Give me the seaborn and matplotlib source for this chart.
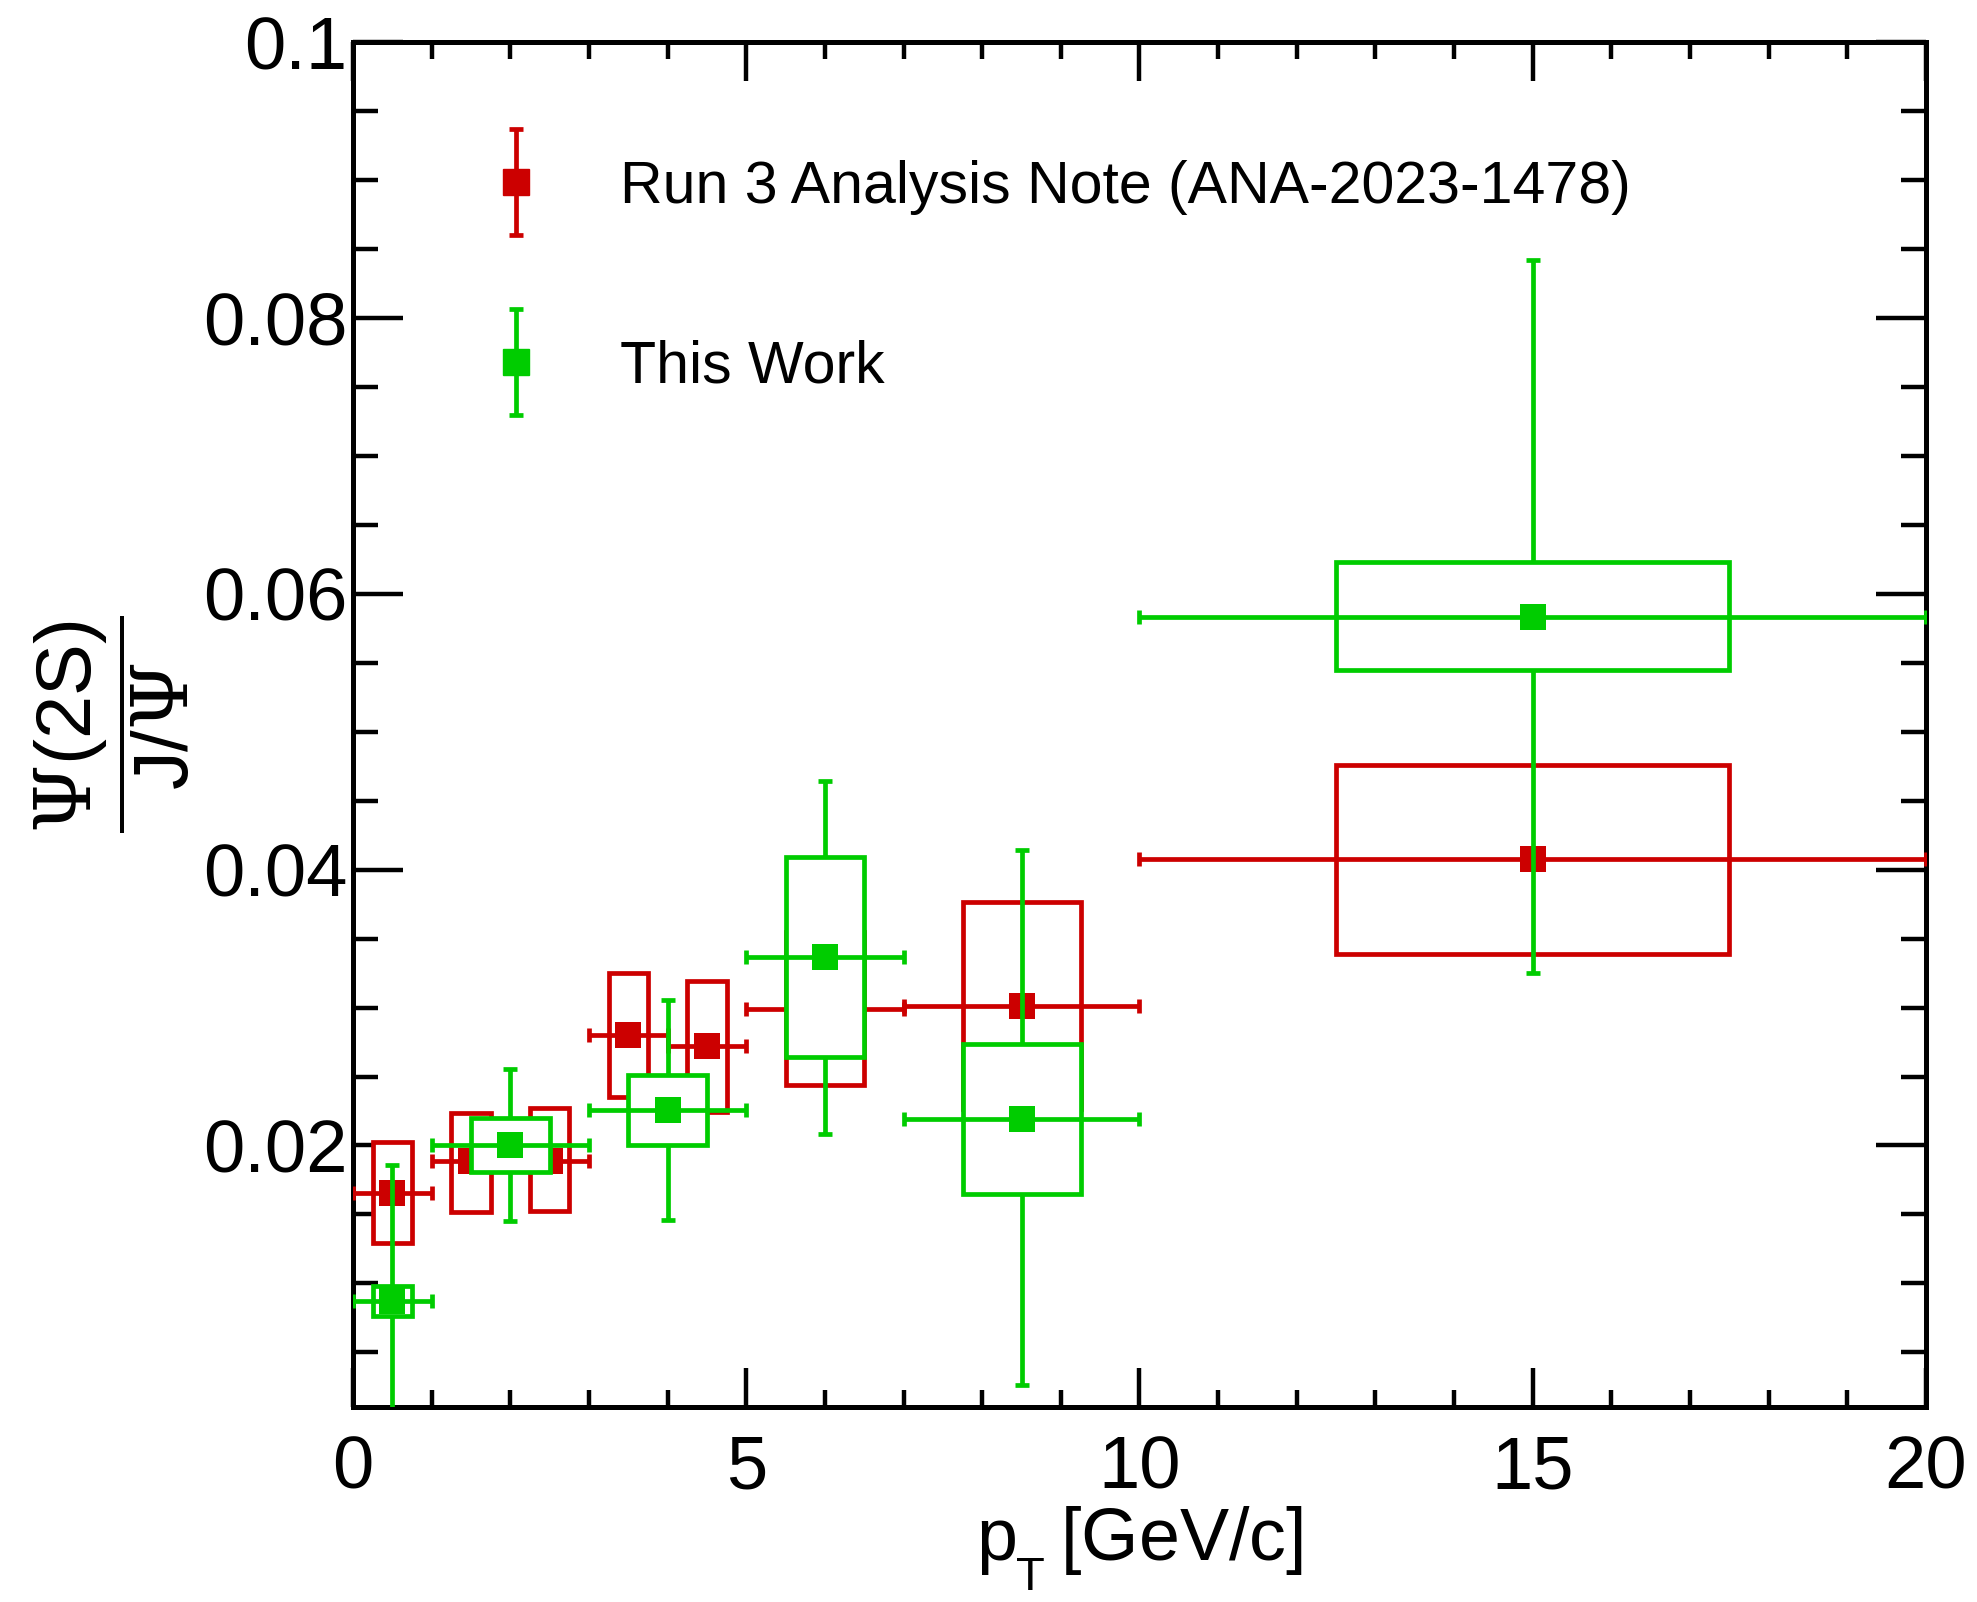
import numpy as np
import pandas as pd
import matplotlib
matplotlib.use("Agg")
import matplotlib.pyplot as plt
import seaborn as sns
from matplotlib.patches import Rectangle
from matplotlib.legend_handler import HandlerErrorbar
from matplotlib.container import ErrorbarContainer
from matplotlib.ticker import MultipleLocator

# ---------------- data ----------------
# Run 3 Analysis Note (ANA-2023-1478)
run3_pt = [0.5, 1.5, 2.5, 3.5, 4.5, 6.0, 8.5, 15.0]
run3_pt_lo = [0, 1, 2, 3, 4, 5, 7, 10]
run3_pt_hi = [1, 2, 3, 4, 5, 7, 10, 20]
run3_ratio = [0.01657, 0.01886, 0.01890, 0.02803, 0.02721, 0.02993, 0.03013, 0.04080]
run3_sys_lo = [0.01291, 0.01516, 0.01528, 0.02351, 0.02242, 0.02435, 0.02263, 0.03390]
run3_sys_hi = [0.02024, 0.02237, 0.02274, 0.03253, 0.03193, 0.03550, 0.03763, 0.04760]

# This Work
work_pt = [0.5, 2.0, 4.0, 6.0, 8.5, 15.0]
work_pt_lo = [0, 1, 3, 5, 7, 10]
work_pt_hi = [1, 3, 5, 7, 10, 20]
work_ratio = [0.00875, 0.02005, 0.02259, 0.03364, 0.02194, 0.05830]
work_stat_lo = [-0.00105, 0.01456, 0.01461, 0.02080, 0.00261, 0.03250]
work_stat_hi = [0.01855, 0.02552, 0.03052, 0.04646, 0.04142, 0.08420]
work_sys_lo = [0.00766, 0.01806, 0.02005, 0.02638, 0.01650, 0.05450]
work_sys_hi = [0.00984, 0.02198, 0.02508, 0.04094, 0.02734, 0.06230]

labels = ["Run 3 Analysis Note (ANA-2023-1478)", "This Work"]
xticks = [0, 5, 10, 15, 20]
yticks = [0.02, 0.04, 0.06, 0.08, 0.1]
ytick_labels = ["0.02", "0.04", "0.06", "0.08", "0.1"]

RED = "#cc0000"
GREEN = "#00cc00"

# ---------------- style ----------------
sns.set_style("ticks")
plt.rcParams["font.family"] = ["Liberation Sans", "DejaVu Sans"]
plt.rcParams["mathtext.fontset"] = "custom"
plt.rcParams["mathtext.rm"] = "Liberation Sans"
plt.rcParams["mathtext.it"] = "Liberation Sans"
plt.rcParams["mathtext.bf"] = "Liberation Sans:bold"
plt.rcParams["mathtext.sf"] = "DejaVu Serif"
plt.rcParams["mathtext.default"] = "regular"
for k in ["text.color", "axes.labelcolor", "xtick.color", "ytick.color",
          "xtick.labelcolor", "ytick.labelcolor", "axes.edgecolor"]:
    plt.rcParams[k] = "black"

fig = plt.figure(figsize=(19.77, 16.02), dpi=100)
ax = fig.add_axes([0.17855, 0.12172, 0.79565, 0.85206])

LW = 3.4
MS = 19.4
CAP = 4.8


def draw_series(pt, lo, hi, y, sys_lo, sys_hi, color, z, stat_lo=None, stat_hi=None):
    pt = np.asarray(pt, float)
    lo = np.asarray(lo, float)
    hi = np.asarray(hi, float)
    y = np.asarray(y, float)
    slo = np.asarray(sys_lo, float)
    shi = np.asarray(sys_hi, float)
    half = (hi - lo) / 4.0
    # statistical (vertical) errors: below the white-filled systematic box
    if stat_lo is not None:
        yerr = [y - np.asarray(stat_lo, float), np.asarray(stat_hi, float) - y]
        ax.errorbar(pt, y, yerr=yerr, fmt="none", ecolor=color, elinewidth=LW,
                    capsize=CAP, capthick=LW, zorder=z)
    for xc, hw, a, b in zip(pt, half, slo, shi):
        ax.add_patch(Rectangle((xc - hw, a), 2 * hw, b - a, facecolor="white",
                               edgecolor=color, linewidth=LW, zorder=z + 1))
    ax.errorbar(pt, y, xerr=[pt - lo, hi - pt], fmt="none",
                ecolor=color, elinewidth=LW, capsize=CAP, capthick=LW,
                zorder=z + 2)
    df = pd.DataFrame({"pt": pt, "ratio": y})
    sns.scatterplot(data=df, x="pt", y="ratio", marker="s", s=MS ** 2,
                    color=color, linewidth=0, ax=ax, zorder=z + 3, legend=False)


draw_series(run3_pt, run3_pt_lo, run3_pt_hi, run3_ratio, run3_sys_lo, run3_sys_hi, RED, 2)
draw_series(work_pt, work_pt_lo, work_pt_hi, work_ratio, work_sys_lo, work_sys_hi, GREEN, 8,
            work_stat_lo, work_stat_hi)

# legend proxies
h_red = ax.errorbar([np.nan], [np.nan], yerr=[1.0], fmt="s", color=RED, mec=RED,
                    ms=MS - 1.0, elinewidth=LW, capsize=CAP, capthick=LW)
h_green = ax.errorbar([np.nan], [np.nan], yerr=[1.0], fmt="s", color=GREEN, mec=GREEN,
                      ms=MS - 1.0, elinewidth=LW, capsize=CAP, capthick=LW)
ax.legend(handles=[h_red, h_green], labels=labels, loc="upper left",
          bbox_to_anchor=(0.0661, 0.9136), frameon=False, fontsize=42.5,
          borderpad=0, borderaxespad=0, handlelength=2.0, handletextpad=0.76,
          labelspacing=2.11, numpoints=1,
          handler_map={ErrorbarContainer: HandlerErrorbar(xerr_size=0.5, yerr_size=0.9)})

# axes
ax.set_xlim(0, 20)
ax.set_ylim(0.00104, 0.1)
ax.set_xticks(xticks)
ax.set_xticklabels([str(t) for t in xticks])
ax.set_yticks(yticks)
ax.set_yticklabels(ytick_labels)
ax.xaxis.set_minor_locator(MultipleLocator(1))
ax.yaxis.set_minor_locator(MultipleLocator(0.005))
ax.tick_params(which="both", direction="in", top=True, right=True, width=3.2,
               color="black", labelsize=53.5, labelcolor="black")
ax.tick_params(axis="x", which="major", length=28, pad=20)
ax.tick_params(axis="x", which="minor", length=12)
ax.tick_params(axis="y", which="major", length=36, pad=4)
ax.tick_params(axis="y", which="minor", length=18)
for sp in ax.spines.values():
    sp.set_linewidth(3.6)
    sp.set_color("black")

ax.set_xlabel(r"p$\hspace{0.71}$[GeV/c]", fontsize=53, labelpad=0)
ax.annotate("T", xy=(0, 0), xycoords=ax.xaxis.label, xytext=(29.0, 15.0),
            textcoords="offset points", ha="left", va="top", fontsize=34,
            color="black", annotation_clip=False)
ax.set_ylabel(r"$\dfrac{\mathsf{\Psi}(2S)}{J/\mathsf{\Psi}}$", fontsize=56, labelpad=8)

fig.savefig("out.png", dpi=100)
